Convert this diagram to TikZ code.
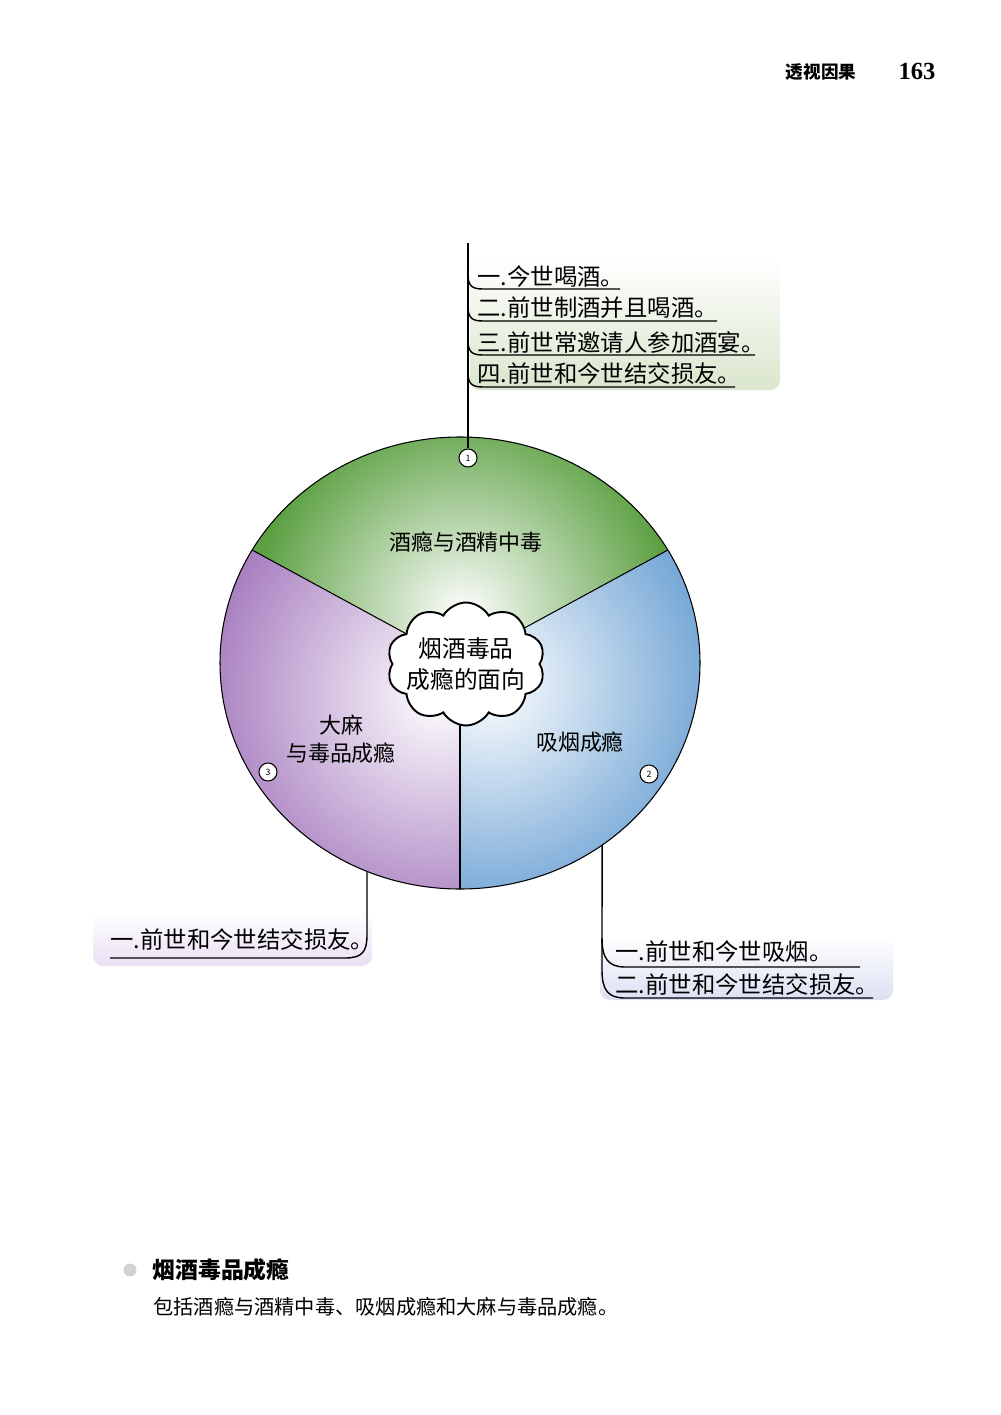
\documentclass[tikz,border=0pt]{standalone}
\usepackage{fontspec}
\setmainfont{Noto Sans CJK SC}
\newfontfamily\numfont{Liberation Serif}
\usetikzlibrary{shapes.symbols}
\definecolor{greenC}{RGB}{92,160,66}
\definecolor{blueC}{RGB}{90,150,206}
\definecolor{purpleC}{RGB}{154,106,182}
\definecolor{greenbox}{RGB}{218,230,205}
\definecolor{bluebox}{RGB}{220,224,243}
\definecolor{purplebox}{RGB}{233,223,243}
\tikzset{
  item/.style={anchor=west, inner sep=0pt, font=\fontsize{13.3pt}{16pt}\selectfont},
  sectortext/.style={inner sep=0pt, align=center, font=\fontsize{12.5pt}{16pt}\selectfont},
  numdot/.style={circle, draw, fill=white, minimum size=3.6mm, inner sep=0pt, font=\fontsize{5pt}{5pt}\selectfont},
  uline/.style={line width=0.8pt},
}
\begin{document}
\begin{tikzpicture}[x=0.2mm, y=-0.2mm, line width=0.6pt]
  \useasboundingbox (0,0) rectangle (1000,1415);
  % running head
  \node[font=\bfseries\fontsize{10pt}{12pt}\selectfont] (runhead) at (821,72) {透视因果};
  \node[font=\numfont\bfseries\fontsize{14pt}{14pt}\selectfont] (pageno) at (917,71) {163};
  % soft boxes behind the items
  \shade[top color=white, bottom color=greenbox, rounded corners=2mm] (470,258) rectangle (780,390);
  \shade[top color=white, bottom color=bluebox, rounded corners=2mm] (600,936) rectangle (893,1000);
  \shade[top color=white, bottom color=purplebox, rounded corners=2mm] (93,912) rectangle (372,966);
  % the three sectors
  \coordinate (ctr) at (460,663);
  \begin{scope}
    \clip (ctr) -- ++(210:240 and 226) arc[start angle=210, end angle=330, x radius=240, y radius=226] -- cycle;
    \fill[greenC] (ctr) ellipse [x radius=240, y radius=226];
    \shade[inner color=white, outer color=greenC] (463,615) circle (210);
  \end{scope}
  \begin{scope}
    \clip (ctr) -- ++(-30:240 and 226) arc[start angle=-30, end angle=90, x radius=240, y radius=226] -- cycle;
    \fill[blueC] (ctr) ellipse [x radius=240, y radius=226];
    \shade[inner color=white, outer color=blueC] (490,685) circle (265);
  \end{scope}
  \begin{scope}
    \clip (ctr) -- ++(90:240 and 226) arc[start angle=90, end angle=210, x radius=240, y radius=226] -- cycle;
    \fill[purpleC] (ctr) ellipse [x radius=240, y radius=226];
    \shade[inner color=white, outer color=purpleC] (438,695) circle (270);
  \end{scope}
  \path (ctr) ++(210:240 and 226) coordinate (edgeL)
        (ctr) ++(-30:240 and 226) coordinate (edgeR)
        (ctr) ++(90:240 and 226) coordinate (edgeB);
  \draw (ctr) -- (edgeL);
  \draw (ctr) -- (edgeR);
  \draw (ctr) -- (edgeB);
  \draw (ctr) ellipse [x radius=240, y radius=226];
  % hub
  \node[cloud, draw, line width=1.1pt, fill=white, cloud puffs=10, cloud puff arc=120, cloud ignores aspect,
        minimum width=31.6mm, minimum height=24.6mm, inner xsep=-6mm, inner ysep=-4mm,
        align=center, font=\fontsize{13.5pt}{17.5pt}\selectfont] (hub) at (466,664) {烟酒毒品\\成瘾的面向};
  % sector titles
  \node[sectortext] (alcohol) at (466,542) {酒瘾与酒精中毒};
  \node[sectortext] (smoking) at (580,742) {吸烟成瘾};
  \node[sectortext] (drugs) at (341,739) {大麻\\与毒品成瘾};
  \node[numdot] (n1) at (468,458) {\raisebox{-1.2mm}{1}};
  \node[numdot] (n2) at (649,774) {\raisebox{-1.2mm}{2}};
  \node[numdot] (n3) at (268,772) {\raisebox{-1.2mm}{3}};
  % branch 1
  \coordinate (top1) at (468,243);
  \draw (n1.north) -- (top1);
  \node[item] (a1) at (477,277) {一.今世喝酒。};
  \node[item] (a2) at (477,308) {二.前世制酒并且喝酒。};
  \node[item] (a3) at (477,342) {三.前世常邀请人参加酒宴。};
  \node[item] (a4) at (477,374) {四.前世和今世结交损友。};
  \draw[uline] (468,274) .. controls (468,286) and (472,289) .. (483,289) -- (620,289);
  \draw[uline] (468,306) .. controls (468,318) and (472,321) .. (483,321) -- (717,321);
  \draw[uline] (468,340) .. controls (468,352) and (472,355) .. (483,355) -- (755,355);
  \draw[uline] (468,372) .. controls (468,384) and (472,387) .. (483,387) -- (735,387);
  % branch 2
  \path (ctr) ++(53.7:240 and 226) coordinate (foot2);
  \node[item] (b1) at (615,952) {一.前世和今世吸烟。};
  \node[item] (b2) at (615,985) {二.前世和今世结交损友。};
  \draw[uline] (602,938) .. controls (602,958) and (608,967) .. (625,967) -- (860,967);
  \draw[uline] (foot2) -- (602,970) .. controls (602,990) and (608,998) .. (625,998) -- (873,998);
  % branch 3
  \path (ctr) ++(112.8:240 and 226) coordinate (foot3);
  \node[item] (c1) at (110,940) {一.前世和今世结交损友。};
  \draw[uline] (foot3) -- (367,935) .. controls (367,952) and (362,958) .. (345,958) -- (c1.west |- 0,958);
  % note at the foot of the page
  \node[circle, fill=gray!35, minimum size=2.6mm, inner sep=0pt] (dot) at (130,1270) {};
  \node[anchor=west, inner sep=0pt, font=\bfseries\fontsize{13pt}{15pt}\selectfont] (notetitle) at (152,1270) {烟酒毒品成瘾};
  \node[anchor=west, inner sep=0pt, font=\fontsize{11.5pt}{14pt}\selectfont] (notetext) at (153,1307) {包括酒瘾与酒精中毒、吸烟成瘾和大麻与毒品成瘾。};
\end{tikzpicture}
\end{document}
